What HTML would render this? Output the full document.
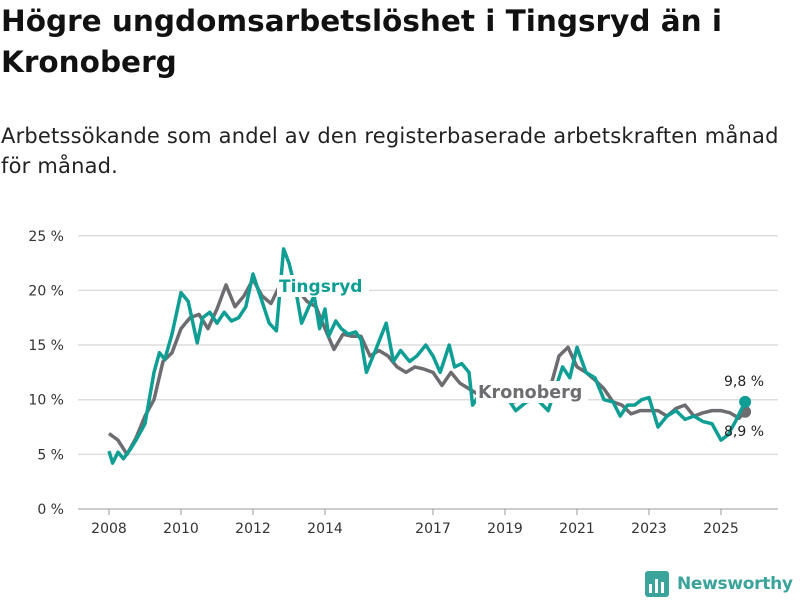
<!DOCTYPE html>
<html><head><meta charset="utf-8">
<style>
body{margin:0;width:800px;height:600px;background:#fff;font-family:"DejaVu Sans","Liberation Sans",sans-serif;overflow:hidden;position:relative}
h1{position:absolute;left:1px;top:1px;margin:0;font-size:29.5px;line-height:41px;font-weight:bold;color:#111;width:760px}
p{position:absolute;left:1px;top:121px;margin:0;font-size:21px;line-height:30px;color:#222;width:800px;letter-spacing:0.2px;white-space:nowrap}
svg{position:absolute;left:0;top:0}
</style></head><body>
<h1>Högre ungdomsarbetslöshet i Tingsryd än i Kronoberg</h1>
<p>Arbetssökande som andel av den registerbaserade arbetskraften månad<br>för månad.</p>
<svg id="c" width="800" height="600"></svg>
<script>
const yTicks=[0,5,10,15,20,25];
const xTicks=[2008,2010,2012,2014,2017,2019,2021,2023,2025];
const kronDates=[2008,2008.25,2008.5,2008.75,2009,2009.25,2009.5,2009.75,2010,2010.25,2010.5,2010.75,2011,2011.25,2011.5,2011.75,2012,2012.25,2012.5,2012.75,2013,2013.25,2013.5,2013.75,2014,2014.25,2014.5,2014.75,2015,2015.25,2015.5,2015.75,2016,2016.25,2016.5,2016.75,2017,2017.25,2017.5,2017.75,2018,2018.25,2018.5,2018.75,2019,2019.25,2019.5,2019.75,2020,2020.25,2020.5,2020.75,2021,2021.25,2021.5,2021.75,2022,2022.25,2022.5,2022.75,2023,2023.25,2023.5,2023.75,2024,2024.25,2024.5,2024.75,2025,2025.25,2025.5,2025.67];
const kronValues=[6.9,6.3,5.0,6.5,8.5,10,13.5,14.3,16.5,17.5,17.8,16.5,18.3,20.5,18.5,19.5,21,19.5,18.8,20.5,21,20,19,18.5,16.5,14.6,16,15.8,15.8,14,14.5,14,13,12.5,13,12.8,12.5,11.3,12.5,11.5,11,10.5,10,10,10,9.8,10,10,10,11,14,14.8,13,12.5,11.8,11,9.8,9.5,8.7,9,9,9,8.5,9.2,9.5,8.5,8.8,9,9,8.8,8.3,8.9];
const tingDates=[2008,2008.1,2008.25,2008.4,2008.6,2008.75,2009,2009.25,2009.4,2009.55,2009.75,2010,2010.2,2010.45,2010.6,2010.8,2011,2011.2,2011.4,2011.6,2011.8,2012,2012.25,2012.45,2012.65,2012.85,2013,2013.2,2013.35,2013.55,2013.7,2013.85,2014,2014.1,2014.3,2014.45,2014.65,2014.85,2015,2015.15,2015.4,2015.7,2015.9,2016.1,2016.35,2016.55,2016.8,2017,2017.2,2017.45,2017.6,2017.8,2018,2018.1,2018.4,2018.7,2019,2019.3,2019.6,2019.9,2020.2,2020.4,2020.6,2020.8,2021,2021.25,2021.5,2021.75,2022,2022.2,2022.4,2022.6,2022.8,2023,2023.25,2023.5,2023.75,2024,2024.25,2024.5,2024.75,2025,2025.2,2025.4,2025.67];
const tingValues=[5.3,4.2,5.2,4.6,5.5,6.3,7.8,12.5,14.3,13.7,16,19.8,19,15.2,17.5,18,17,18,17.2,17.5,18.5,21.5,19,17,16.3,23.8,22.5,19.8,17,18.5,19.5,16.5,18.3,15.8,17.2,16.5,16,16.2,15.5,12.5,14.5,17,13.5,14.5,13.5,14,15,14,12.5,15,13,13.3,12.5,9.5,11,10,10.5,9,9.8,10,9,11,13,12,14.8,12.5,12,10,9.8,8.5,9.5,9.5,10,10.2,7.5,8.5,9,8.2,8.5,8,7.8,6.3,6.8,8,9.8];
const NS="http://www.w3.org/2000/svg";
const svg=document.getElementById('c');
const X=t=>109+(t-2008)*36;
const Y=v=>509-v*10.93;
function mk(tag,attrs,parent){const e=document.createElementNS(NS,tag);for(const k in attrs)e.setAttribute(k,attrs[k]);(parent||svg).appendChild(e);return e;}
yTicks.forEach(v=>{
  const l=mk('line',{x1:78,x2:778,y1:Y(v),y2:Y(v),stroke:v===0?'#bbb':'#ddd','stroke-width':1.5});
  
  
  const t=mk('text',{x:64,y:Y(v)+5,'text-anchor':'end','font-size':14,fill:'#333'});
  t.textContent=v+' %';
  
  
});
xTicks.forEach(yr=>{
  const l=mk('line',{x1:X(yr),x2:X(yr),y1:509,y2:515,stroke:'#999','stroke-width':1});
  
  
  const t=mk('text',{x:X(yr),y:533,'text-anchor':'middle','font-size':14,fill:'#333'});
  t.textContent=yr;
  
  
});
function line(d,v,color,name){
  const p=mk('polyline',{points:d.map((t,i)=>X(t)+','+Y(v[i])).join(' '),fill:'none',stroke:color,'stroke-width':3.5,'stroke-linejoin':'round'});
  
  
  const c=mk('circle',{cx:X(d[d.length-1]),cy:Y(v[v.length-1]),r:6,fill:color});
  
  
}
line(kronDates,kronValues,'#6d6c70','kronoberg-line');
line(tingDates,tingValues,'#0e9e94','tingsryd-line');
function label(x,y,w,txt,color,name,bold,size,bg){
  if(bg){const r=mk('rect',{x:x-2,y:y-17,width:w,height:22,fill:'#fff'});
  
  }
  const t=mk('text',{x:x,y:y,'font-size':size,'font-weight':bold?'bold':'normal',fill:color});
  t.textContent=txt;
  
  
}
label(279,292,92,'Tingsryd','#0e9e94','tingsryd-label',true,17,true);
label(478,398,112,'Kronoberg','#6d6c70','kronoberg-label',true,17.5,true);
label(724,386,0,'9,8 %','#222','tingsryd-last-value',false,14,false);
label(724,436,0,'8,9 %','#222','kronoberg-last-value',false,14,false);
</script>
<div style="position:absolute;left:645px;top:569px;height:30px;display:flex;align-items:center">
<svg width="24" height="26" style="position:static"><rect x="0" y="0" width="24" height="26" rx="3" fill="#3aa39a"/><rect x="4" y="13" width="3" height="9" fill="#fff"/><rect x="10" y="8" width="3" height="14" fill="#fff"/><rect x="16" y="11" width="3" height="11" fill="#fff"/></svg>
<span style="margin-left:8px;font-size:17px;font-weight:bold;color:#3aa39a;letter-spacing:-0.3px">Newsworthy</span></div>
</body></html>
